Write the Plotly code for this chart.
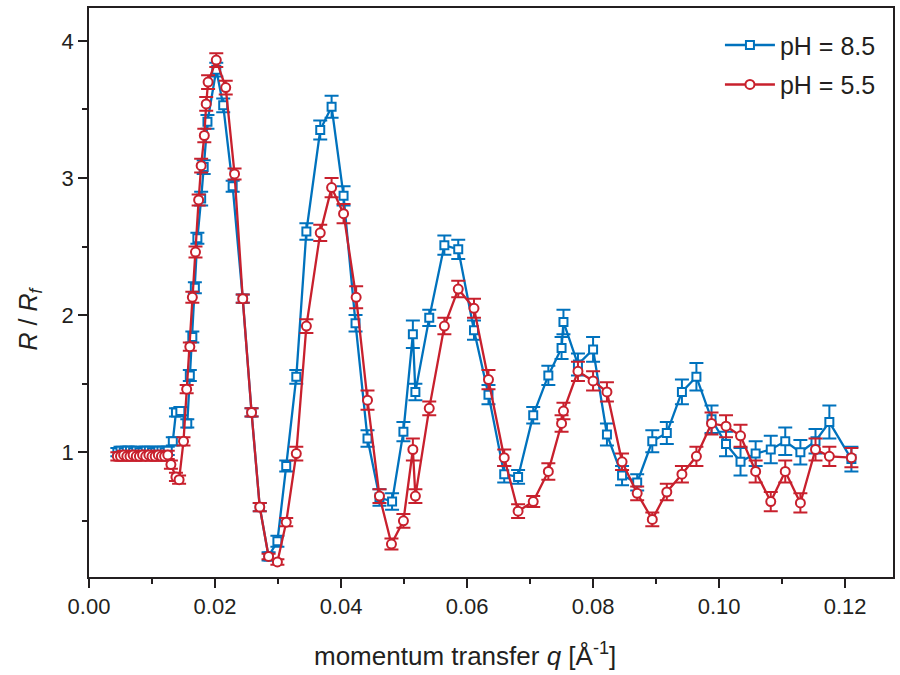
import plotly.graph_objects as go

# ---- data ----
q_ph85 = [0.0045, 0.0050, 0.0055, 0.0060, 0.0065, 0.0070, 0.0075, 0.0080, 0.0085, 0.0090,
          0.0095, 0.0100, 0.0105, 0.0110, 0.0115, 0.0120, 0.0125,
          0.0133, 0.0138, 0.0145, 0.0156, 0.0160, 0.0164, 0.0168, 0.0172, 0.0178, 0.0182,
          0.0188, 0.0202, 0.0213, 0.0228, 0.0244, 0.0258, 0.0271, 0.0285, 0.0299, 0.0313,
          0.0329, 0.0345, 0.0367, 0.0385, 0.0404, 0.0423, 0.0442, 0.0461, 0.0481, 0.0499,
          0.0514, 0.0518, 0.0540, 0.0564, 0.0586, 0.0611, 0.0634, 0.0659, 0.0681, 0.0705,
          0.0729, 0.0750, 0.0753, 0.0776, 0.0800, 0.0822, 0.0846, 0.0870, 0.0894, 0.0917,
          0.0941, 0.0964, 0.0988, 0.1011, 0.1034, 0.1058, 0.1082, 0.1105, 0.1129, 0.1153,
          0.1175, 0.1210]
r_ph85 = [1.00, 1.01, 1.00, 1.01, 1.01, 1.00, 1.01, 1.00, 1.00, 1.01,
          1.01, 1.00, 1.00, 1.01, 1.01, 1.00, 1.01,
          1.08, 1.29, 1.30, 1.21, 1.56, 1.84, 2.20, 2.56, 2.85, 3.08,
          3.41, 3.79, 3.53, 2.94, 2.12, 1.29, 0.60, 0.24, 0.35, 0.90,
          1.55, 2.61, 3.35, 3.52, 2.87, 1.94, 1.10, 0.67, 0.64, 1.15,
          1.86, 1.44, 1.98, 2.51, 2.48, 1.89, 1.42, 0.84, 0.82, 1.27,
          1.56, 1.76, 1.95, 1.64, 1.75, 1.13, 0.83, 0.78, 1.08, 1.14,
          1.44, 1.55, 1.24, 1.06, 0.93, 0.99, 1.02, 1.08, 1.00, 1.08,
          1.22, 0.95]
e_ph85 = [0.03, 0.03, 0.03, 0.03, 0.03, 0.03, 0.03, 0.03, 0.03, 0.03,
          0.03, 0.03, 0.03, 0.03, 0.03, 0.03, 0.03,
          0.03, 0.03, 0.03, 0.03, 0.04, 0.04, 0.04, 0.04, 0.05, 0.05,
          0.05, 0.05, 0.05, 0.04, 0.03, 0.03, 0.03, 0.03, 0.04, 0.04,
          0.05, 0.06, 0.07, 0.08, 0.07, 0.06, 0.06, 0.06, 0.06, 0.07,
          0.10, 0.06, 0.06, 0.07, 0.07, 0.07, 0.07, 0.06, 0.05, 0.06,
          0.07, 0.08, 0.09, 0.08, 0.09, 0.08, 0.07, 0.06, 0.08, 0.08,
          0.09, 0.10, 0.10, 0.09, 0.10, 0.09, 0.10, 0.10, 0.09, 0.09,
          0.12, 0.09]

q_ph55 = [0.0045, 0.0050, 0.0055, 0.0060, 0.0065, 0.0070, 0.0075, 0.0080, 0.0085, 0.0090,
          0.0095, 0.0100, 0.0105, 0.0110, 0.0115, 0.0120, 0.0125,
          0.0130, 0.0138, 0.0143, 0.0150, 0.0155, 0.0160, 0.0164, 0.0169, 0.0174, 0.0178,
          0.0183, 0.0186, 0.0189, 0.0202, 0.0217, 0.0231, 0.0244, 0.0258, 0.0271, 0.0285,
          0.0299, 0.0313, 0.0329, 0.0345, 0.0367, 0.0385, 0.0404, 0.0424, 0.0442, 0.0461,
          0.0480, 0.0499, 0.0514, 0.0518, 0.0540, 0.0564, 0.0586, 0.0611, 0.0634, 0.0659,
          0.0681, 0.0705, 0.0729, 0.0750, 0.0753, 0.0776, 0.0800, 0.0822, 0.0846, 0.0870,
          0.0894, 0.0917, 0.0941, 0.0964, 0.0988, 0.1011, 0.1034, 0.1058, 0.1082, 0.1105,
          0.1129, 0.1153, 0.1175, 0.1210]
r_ph55 = [0.97, 0.97, 0.98, 0.97, 0.97, 0.98, 0.97, 0.97, 0.98, 0.97,
          0.98, 0.97, 0.97, 0.98, 0.97, 0.97, 0.98,
          0.91, 0.82, 0.80, 1.08, 1.46, 1.77, 2.13, 2.46, 2.84, 3.09,
          3.31, 3.54, 3.70, 3.86, 3.66, 3.03, 2.12, 1.29, 0.60, 0.24,
          0.20, 0.49, 0.99, 1.92, 2.60, 2.93, 2.74, 2.13, 1.38, 0.68,
          0.33, 0.50, 1.02, 0.68, 1.32, 1.92, 2.19, 2.05, 1.53, 0.96,
          0.57, 0.64, 0.86, 1.21, 1.30, 1.59, 1.52, 1.44, 0.93, 0.70,
          0.51, 0.71, 0.84, 0.97, 1.21, 1.19, 1.12, 0.86, 0.64, 0.86,
          0.63, 1.02, 0.97, 0.96]
e_ph55 = [0.03, 0.03, 0.03, 0.03, 0.03, 0.03, 0.03, 0.03, 0.03, 0.03,
          0.03, 0.03, 0.03, 0.03, 0.03, 0.03, 0.03,
          0.03, 0.03, 0.03, 0.03, 0.03, 0.03, 0.04, 0.04, 0.04, 0.05,
          0.05, 0.05, 0.05, 0.05, 0.05, 0.04, 0.03, 0.03, 0.03, 0.02,
          0.02, 0.03, 0.05, 0.05, 0.06, 0.07, 0.07, 0.08, 0.07, 0.05,
          0.04, 0.05, 0.08, 0.05, 0.05, 0.06, 0.06, 0.07, 0.07, 0.06,
          0.05, 0.04, 0.06, 0.06, 0.06, 0.07, 0.07, 0.07, 0.06, 0.05,
          0.05, 0.06, 0.06, 0.07, 0.08, 0.08, 0.08, 0.08, 0.07, 0.08,
          0.07, 0.08, 0.07, 0.07]

series_names = ["pH = 8.5", "pH = 5.5"]
x_ticks = [0.00, 0.02, 0.04, 0.06, 0.08, 0.10, 0.12]
y_ticks = [1, 2, 3, 4]
x_title = "momentum transfer <i>q</i> [Å<sup>-1</sup>]"
y_title = "<i>R</i> / <i>R</i><sub><i>f</i></sub>"

BLUE = "#0072BD"
RED = "#C8202D"
INK = "#231F20"
FONT = "Liberation Sans, Arial, sans-serif"

fig = go.Figure()
fig.add_trace(go.Scatter(
    x=q_ph85, y=r_ph85, name=series_names[0], mode="lines+markers",
    legendgroup="a",
    line=dict(color=BLUE, width=2.3),
    marker=dict(symbol="square", size=8, color="white", line=dict(color=BLUE, width=2)),
    error_y=dict(type="data", array=e_ph85, visible=True, color=BLUE, thickness=2, width=7),
))
fig.add_trace(go.Scatter(
    x=q_ph55, y=r_ph55, name=series_names[1], mode="lines+markers",
    legendgroup="b",
    line=dict(color=RED, width=2.3),
    marker=dict(symbol="circle", size=9, color="white", line=dict(color=RED, width=2)),
    error_y=dict(type="data", array=e_ph55, visible=True, color=RED, thickness=2, width=7),
))

fig.update_layout(
    width=900, height=675,
    margin=dict(l=89, r=5, t=8, b=98),
    paper_bgcolor="white", plot_bgcolor="white",
    font=dict(family=FONT, color=INK, size=22),
    showlegend=True,
    legend=dict(x=0.985, y=0.975, xanchor="right", yanchor="top",
                font=dict(size=25, color=INK), bgcolor="rgba(0,0,0,0)",
                tracegroupgap=4, itemwidth=50),
    annotations=[
        dict(text=x_title, xref="paper", yref="paper", x=0.468, y=-0.137,
             xanchor="center", yanchor="middle", showarrow=False,
             font=dict(size=26, color=INK, family=FONT)),
        dict(text=y_title, xref="paper", yref="paper", x=-0.073, y=0.455,
             xanchor="center", yanchor="middle", showarrow=False, textangle=-90,
             font=dict(size=25, color=INK, family=FONT)),
    ],
)
fig.update_xaxes(
    range=[0, 0.1276], tickvals=x_ticks, ticktext=[f"{v:.2f}" for v in x_ticks],
    showgrid=False, zeroline=False,
    showline=True, linecolor=INK, linewidth=1.8, mirror=True,
    ticks="outside", ticklen=9, tickwidth=1.6, tickcolor=INK,
    minor=dict(dtick=0.01, ticks="outside", ticklen=5, tickwidth=1.6, tickcolor=INK, showgrid=False),
    tickfont=dict(size=22, color=INK),
)
fig.update_yaxes(
    range=[0.09, 4.24], tickvals=y_ticks, ticktext=[str(v) for v in y_ticks],
    showgrid=False, zeroline=False,
    showline=True, linecolor=INK, linewidth=1.8, mirror=True,
    ticks="outside", ticklen=9, tickwidth=1.6, tickcolor=INK,
    minor=dict(dtick=0.5, tick0=0, ticks="outside", ticklen=5, tickwidth=1.6, tickcolor=INK, showgrid=False),
    tickfont=dict(size=22, color=INK),
)

fig.write_html("out.html")
